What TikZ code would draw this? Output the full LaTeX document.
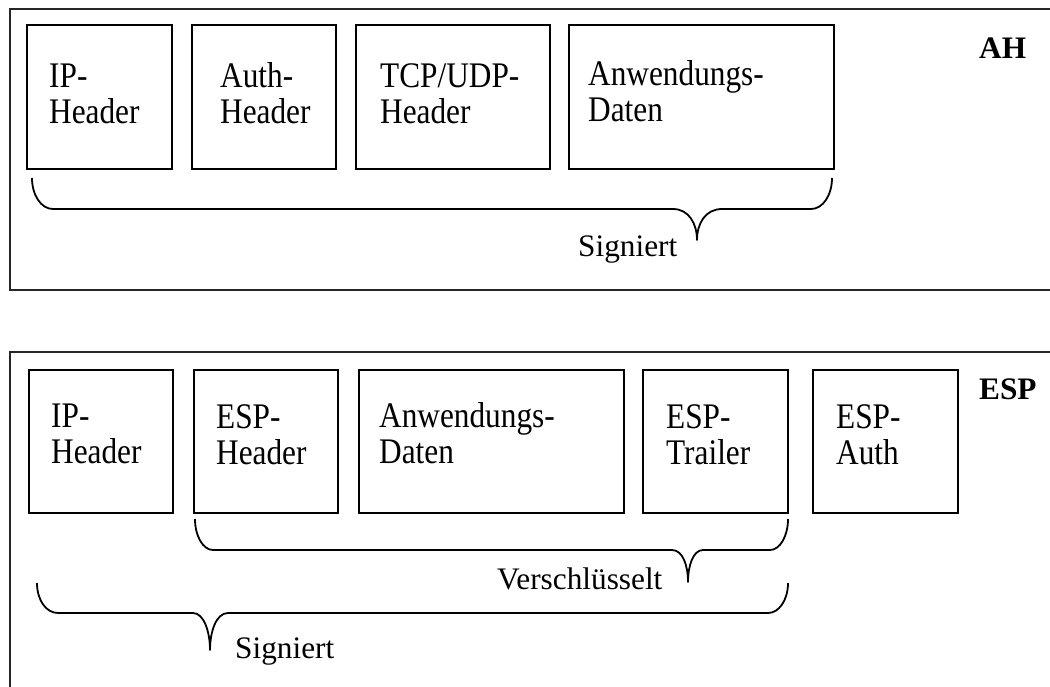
\documentclass[tikz,border=0pt]{standalone}
\usepackage{fontspec}
\setmainfont{Liberation Serif}
\usetikzlibrary{calc}
\tikzset{
  frame/.style={draw=black!85, line width=1.6pt},
  field/.style={draw=black, line width=1.9pt, rectangle, inner sep=0pt, outer sep=0pt, anchor=north west},
  fieldtext/.style={anchor=north west, inner sep=0pt, align=left, yscale=1.15,
                    font=\fontsize{31.3}{31.3}\selectfont},
  plain/.style={anchor=base west, inner sep=0pt, font=\fontsize{31.3}{36}\selectfont},
  title/.style={anchor=base west, inner sep=0pt, font=\fontsize{31.3}{36}\selectfont\bfseries},
  bracepath/.style={draw=black, line width=1.8pt, line join=round}
}
\begin{document}
\begin{tikzpicture}[x=1pt, y=-1pt]
  \useasboundingbox (0,0) rectangle (1050,686);
  \clip (0,0) rectangle (1050,686);

  % ---------- AH packet ----------
  \draw[frame] (10,9) rectangle (1070,290);
  \node[title] (ahtitle) at (979,58) {AH};

  \node[field, minimum width=145pt, minimum height=144pt] (ahip) at (27,25) {};
  \node[field, minimum width=144pt, minimum height=144pt] (ahauth) at (192,25) {};
  \node[field, minimum width=194pt, minimum height=144pt] (ahtcp) at (356,25) {};
  \node[field, minimum width=265pt, minimum height=144pt] (ahdata) at (569,25) {};

  \node[fieldtext] (ahiptext) at (49,62) {\strut IP-\\Header};
  \node[fieldtext] (ahauthtext) at (220,62) {\strut Auth-\\Header};
  \node[fieldtext] (ahtcptext) at (380,62) {\strut TCP/UDP-\\Header};
  \node[fieldtext] (ahdatatext) at (588,60) {\strut Anwendungs-\\Daten};

  % brace: signed part
  \draw[bracepath] (32,178) .. controls (32,195) and (41,209) .. (53,209)
    -- (673,209) .. controls (689,209) and (697,224) .. (697,240)
    .. controls (697,224) and (705,209) .. (722,209)
    -- (811,209) .. controls (823,209) and (832,195) .. (832,178);
  \node[plain] (ahsig) at (578,256) {Signiert};

  % ---------- ESP packet ----------
  \draw[frame] (10,352) rectangle (1070,700);
  \node[title] (esptitle) at (979,399) {ESP};

  \node[field, minimum width=144pt, minimum height=143pt] (espip) at (29,370) {};
  \node[field, minimum width=144pt, minimum height=143pt] (esphdr) at (194,370) {};
  \node[field, minimum width=265pt, minimum height=143pt] (espdata) at (359,370) {};
  \node[field, minimum width=145pt, minimum height=143pt] (esptrl) at (643,370) {};
  \node[field, minimum width=145pt, minimum height=143pt] (espauth) at (813,370) {};

  \node[fieldtext] (espiptext) at (51,402) {\strut IP-\\Header};
  \node[fieldtext] (esphdrtext) at (216,403) {\strut ESP-\\Header};
  \node[fieldtext] (espdatatext) at (379,402) {\strut Anwendungs-\\Daten};
  \node[fieldtext] (esptrltext) at (666,403) {\strut ESP-\\Trailer};
  \node[fieldtext] (espauthtext) at (836,403) {\strut ESP-\\Auth};

  % brace: encrypted part
  \draw[bracepath] (195,519) .. controls (195,536) and (203,550) .. (213,550)
    -- (672,550) .. controls (683,550) and (688,566) .. (688,582)
    .. controls (688,566) and (693,550) .. (703,550)
    -- (770,550) .. controls (780,550) and (788,536) .. (788,519);
  \node[plain] (espenc) at (497,589) {Verschlüsselt};

  % brace: signed part
  \draw[bracepath] (37,583) .. controls (37,600) and (46,613) .. (58,613)
    -- (193,613) .. controls (204,613) and (210,632) .. (210,650)
    .. controls (210,632) and (216,613) .. (228,613)
    -- (768,613) .. controls (779,613) and (788,600) .. (788,583);
  \node[plain] (espsig) at (235,658) {Signiert};
\end{tikzpicture}
\end{document}
